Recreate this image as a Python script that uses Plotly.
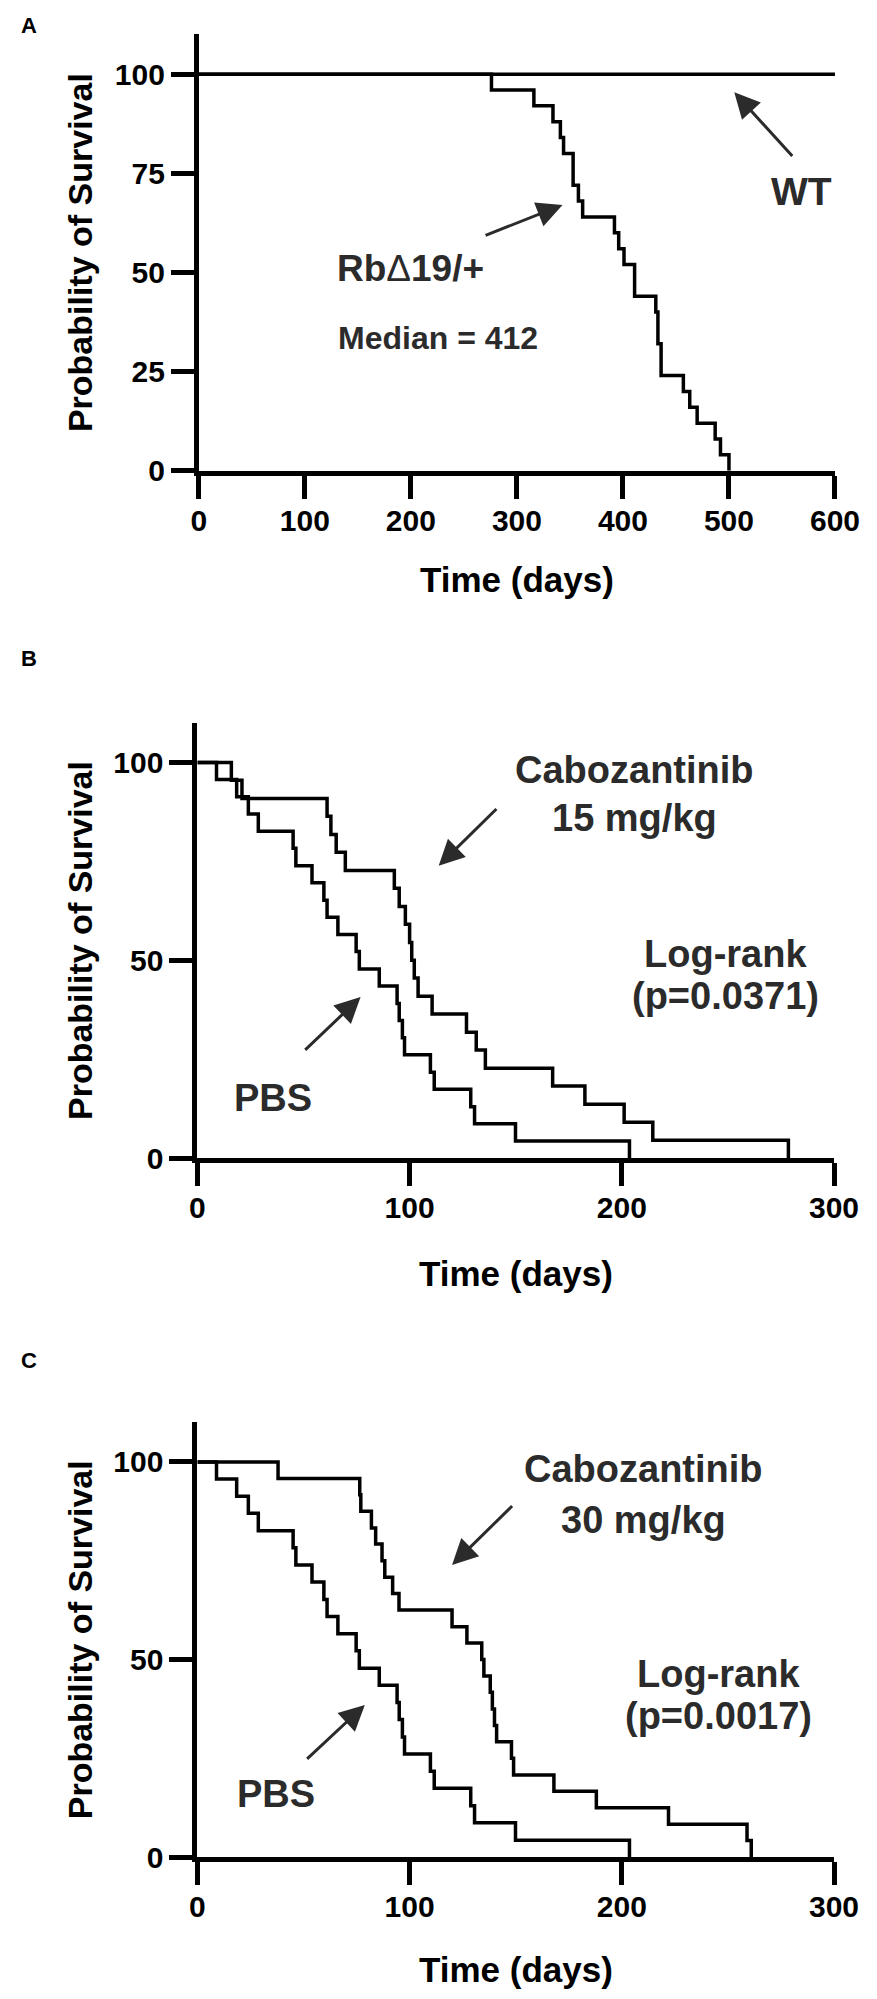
import plotly.graph_objects as go

# canvas size of the reference
W = 877
H = 1999

# ---- panel A: Rb delta19/+ vs WT
a_wt_days = [0, 600]
a_wt_surv = [100, 100]
a_rb_days = [0, 276, 316, 334, 341, 344, 353, 358, 362, 392, 396, 401, 411, 431, 433, 436, 457, 463, 470, 487, 492, 500]
a_rb_surv = [100, 96, 92, 88, 84, 80, 72, 68, 64, 60, 56, 52, 44, 40, 32, 24, 20, 16, 12, 8, 4, 0]

# ---- PBS control cohort (same curve in B and C)
pbs_days = [0, 9, 18.5, 24, 28.7, 45.1, 46.4, 54, 59.6, 61.1, 66.2, 74.8, 76.3, 85.7, 94.1, 95.1,
            96.6, 97.6, 109.8, 111.6, 128.8, 130.6, 149.9, 203.6]
pbs_surv = [100, 95.7, 91.3, 87.0, 82.6, 78.3, 73.9, 69.6, 65.2, 60.9, 56.5, 52.2, 47.8, 43.5, 39.1, 34.8,
            30.4, 26.1, 21.7, 17.4, 13.0, 8.7, 4.3, 0]

# ---- panel B: cabozantinib 15 mg/kg
cabo15_days = [0, 16, 21, 61.1, 62.9, 65.4, 69.7, 92.8, 95.1, 98, 100, 101, 102.2, 104, 110.6, 126.8,
               131.4, 135.7, 167.4, 182.6, 201.1, 214.6, 278.5]
cabo15_surv = [100, 95.5, 90.9, 86.4, 81.8, 77.3, 72.7, 68.2, 63.6, 59.1, 54.5, 50, 45.5, 40.9, 36.4, 31.8,
               27.3, 22.7, 18.2, 13.6, 9.1, 4.5, 0]

# ---- panel C: cabozantinib 30 mg/kg
cabo30_days = [0, 38, 76.5, 77, 82, 84, 87, 88.3, 92, 95, 120, 127, 134, 135, 138, 139, 140, 141,
               148, 149, 168, 188, 222, 259, 261]
cabo30_surv = [100, 95.8, 91.7, 87.5, 83.3, 79.2, 75, 70.8, 66.7, 62.5, 58.3, 54.2, 50, 45.8, 41.7, 37.5,
               33.3, 29.2, 25, 20.8, 16.7, 12.5, 8.3, 4.2, 0]

x_ticks_a = [0, 100, 200, 300, 400, 500, 600]
y_ticks_a = [0, 25, 50, 75, 100]
x_ticks_bc = [0, 100, 200, 300]
y_ticks_bc = [0, 50, 100]

FONT = "Liberation Sans"
TXT = "#2b2b2b"


def px_x(p):
    return p / W


def px_y(p):
    return 1 - p / H


# pixel boxes of the three plot areas: left, right, bottom (y=0), top (y=110)
panels = [
    dict(l=190, r=851, b=466.7, t=26.7, xr=[0, 600], xt=x_ticks_a, yt=y_ticks_a, lab="A", laby=18, tty=110),
    dict(l=188.5, r=850, b=1160, t=721, xr=[0, 300], xt=x_ticks_bc, yt=y_ticks_bc, lab="B", laby=656, tty=116),
    dict(l=188.5, r=850, b=1865, t=1426.5, xr=[0, 300], xt=x_ticks_bc, yt=y_ticks_bc, lab="C", laby=1364, tty=113),
]

fig = go.Figure()

curves = [
    (1, a_wt_days, a_wt_surv),
    (1, a_rb_days, a_rb_surv),
    (2, pbs_days, pbs_surv),
    (2, cabo15_days, cabo15_surv),
    (3, pbs_days, pbs_surv),
    (3, cabo30_days, cabo30_surv),
]
for n, xs, ys in curves:
    sfx = "" if n == 1 else str(n)
    fig.add_trace(go.Scatter(x=xs, y=ys, mode="lines", line=dict(color="black", width=3.5, shape="hv"),
                             xaxis="x" + sfx, yaxis="y" + sfx, showlegend=False, hoverinfo="skip"))

annotations = []
for i, p in enumerate(panels):
    sfx = "" if i == 0 else str(i + 1)
    ax_common = dict(showgrid=False, zeroline=False, showline=True, linewidth=5, linecolor="black",
                     ticks="outside", ticklen=23, tickwidth=5, tickcolor="black",
                     tickfont=dict(family=FONT, size=30, color="black", weight="bold"))
    fig.layout["xaxis" + sfx] = dict(domain=[px_x(p["l"]), px_x(p["r"])], range=p["xr"],
                                     tickvals=p["xt"], anchor="y" + sfx, ticklabelstandoff=-4, **ax_common)
    fig.layout["yaxis" + sfx] = dict(domain=[px_y(p["b"]), px_y(p["t"])], range=[0, 110],
                                     tickvals=p["yt"], anchor="x" + sfx, **ax_common)
    # axis titles
    annotations.append(dict(text="Time (days)", xref="paper", yref="paper", xanchor="center", yanchor="middle",
                            x=px_x((p["l"] + p["r"]) / 2), y=px_y(p["b"] + p["tty"]), showarrow=False,
                            font=dict(family=FONT, size=35, color="black", weight="bold")))
    annotations.append(dict(text="Probability of Survival", xref="paper", yref="paper",
                            xanchor="center", yanchor="middle",
                            x=px_x(66), y=px_y((p["b"] + p["t"]) / 2), textangle=-90, showarrow=False,
                            font=dict(family=FONT, size=34, color="black", weight="bold")))
    annotations.append(dict(text=p["lab"], xref="paper", yref="paper", x=px_x(3), y=px_y(p["laby"]),
                            xanchor="left", yanchor="middle", showarrow=False,
                            font=dict(family=FONT, size=22, color="black", weight="bold")))


def label(n, text, x, y, size=38):
    sfx = "" if n == 1 else str(n)
    annotations.append(dict(text=text, xref="x" + sfx, yref="y" + sfx, x=x, y=y, showarrow=False,
                            xanchor="center", yanchor="middle",
                            font=dict(family=FONT, size=size, color=TXT, weight="bold")))


def arrow(n, x0, y0, x1, y1):
    sfx = "" if n == 1 else str(n)
    annotations.append(dict(text="", xref="x" + sfx, yref="y" + sfx, axref="x" + sfx, ayref="y" + sfx,
                            x=x1, y=y1, ax=x0, ay=y0, showarrow=True, arrowhead=2, arrowsize=1.7,
                            arrowwidth=3, arrowcolor=TXT, standoff=0, startstandoff=0))


# panel A labels
label(1, "WT", 568, 70.3, 39)
arrow(1, 561, 79, 505, 95.4)
label(1, "Rb<span style='font-weight:normal'>Δ</span>19/+", 200, 51, 37)
arrow(1, 269, 59.2, 343, 67)
label(1, "Median = 412", 226, 33.4, 32)

# panel B labels
label(2, "Cabozantinib", 206, 98.2)
label(2, "15 mg/kg", 206, 86)
arrow(2, 141.6, 88.6, 113.7, 73.9)
label(2, "Log-rank", 248.7, 51.6)
label(2, "(p=0.0371)", 248.7, 40.9)
label(2, "PBS", 35.6, 15.3)
arrow(2, 50.1, 27, 76.9, 40.7)

# panel C labels
label(3, "Cabozantinib", 210, 98.1)
label(3, "30 mg/kg", 210, 85.4)
arrow(3, 149, 89.2, 120, 73.9)
label(3, "Log-rank", 245.7, 46.3)
label(3, "(p=0.0017)", 245.7, 35.6)
label(3, "PBS", 37, 16)
arrow(3, 51, 24.5, 78.9, 38.5)

fig.update_layout(width=W, height=H, margin=dict(l=0, r=0, t=0, b=0),
                  plot_bgcolor="white", paper_bgcolor="white",
                  annotations=annotations)

fig.write_html("out.html")
